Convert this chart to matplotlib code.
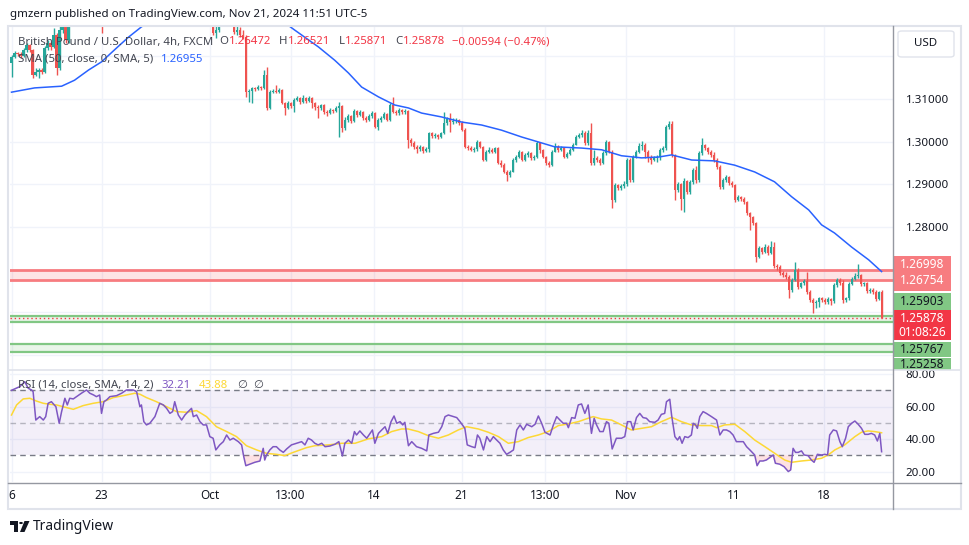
import numpy as np
import matplotlib.pyplot as plt
from matplotlib.patches import Rectangle, Polygon, Circle, FancyBboxPatch
from matplotlib.lines import Line2D
from matplotlib.transforms import Bbox, TransformedBbox

plt.rcParams['font.family'] = ['Noto Sans', 'DejaVu Sans']

# GBPUSD 4h candles, Sep 16 .. Nov 21 2024, one row per trading day
firstOpen = 1.3184
closes = [
    1.3198, 1.3208, 1.3205, 1.3201, 1.3215, 1.3226,
    1.3215, 1.3156, 1.3163, 1.3168, 1.3163, 1.3219,
    1.3231, 1.3222, 1.3250, 1.3173, 1.3262, 1.3300,
    1.3238, 1.3295, 1.3305, 1.3290, 1.3315, 1.3320,
    1.3310, 1.3300, 1.3325, 1.3340, 1.3310, 1.3318,
    1.3290, 1.3330, 1.3345, 1.3355, 1.3340, 1.3360,
    1.3370, 1.3365, 1.3390, 1.3410, 1.3400, 1.3415,
    1.3420, 1.3410, 1.3405, 1.3380, 1.3370, 1.3380,
    1.3385, 1.3400, 1.3425, 1.3390, 1.3360, 1.3375,
    1.3380, 1.3395, 1.3370, 1.3360, 1.3390, 1.3400,
    1.3400, 1.3410, 1.3395, 1.3390, 1.3380, 1.3375,
    1.3370, 1.3255, 1.3262, 1.3290, 1.3300, 1.3280,
    1.3290, 1.3300, 1.3258, 1.3262, 1.3250, 1.3245,
    1.3116, 1.3119, 1.3126, 1.3123, 1.3128, 1.3126,
    1.3156, 1.3079, 1.3116, 1.3119, 1.3116, 1.3121,
    1.3091, 1.3079, 1.3091, 1.3084, 1.3098, 1.3102,
    1.3093, 1.3102, 1.3095, 1.3102, 1.3091, 1.3081,
    1.3079, 1.3086, 1.3070, 1.3067, 1.3074, 1.3072,
    1.3079, 1.3084, 1.3032, 1.3051, 1.3060, 1.3048,
    1.3072, 1.3063, 1.3070, 1.3056, 1.3051, 1.3060,
    1.3067, 1.3034, 1.3051, 1.3056, 1.3065, 1.3051,
    1.3086, 1.3070, 1.3067, 1.3074, 1.3070, 1.3072,
    1.3004, 1.2997, 1.2988, 1.2983, 1.2988, 1.2978,
    1.2983, 1.3020, 1.3013, 1.3016, 1.3011, 1.3020,
    1.3044, 1.3053, 1.3046, 1.3048, 1.3051, 1.3044,
    1.3027, 1.2988, 1.2985, 1.2981, 1.2983, 1.2999,
    1.2988, 1.2957, 1.2976, 1.2981, 1.2976, 1.2985,
    1.2950, 1.2945, 1.2929, 1.2922, 1.2929, 1.2957,
    1.2964, 1.2976, 1.2957, 1.2969, 1.2974, 1.2962,
    1.2964, 1.2997, 1.2981, 1.2964, 1.2950, 1.2945,
    1.2976, 1.2988, 1.2981, 1.2985, 1.2964, 1.2971,
    1.2981, 1.2992, 1.3011, 1.3016, 1.3020, 1.2997,
    1.3020, 1.2950, 1.2962, 1.2957, 1.2950, 1.2974,
    1.2999, 1.2976, 1.2863, 1.2899, 1.2892, 1.2896,
    1.2901, 1.2957, 1.2910, 1.2964, 1.2976, 1.2990,
    1.2992, 1.2976, 1.2962, 1.2957, 1.2962, 1.2964,
    1.2981, 1.2985, 1.3034, 1.3041, 1.2969, 1.2887,
    1.2901, 1.2866, 1.2908, 1.2883, 1.2906, 1.2934,
    1.2910, 1.2974, 1.2992, 1.2985, 1.2976, 1.2969,
    1.2957, 1.2941, 1.2894, 1.2910, 1.2917, 1.2903,
    1.2899, 1.2863, 1.2870, 1.2866, 1.2859, 1.2833,
    1.2824, 1.2810, 1.2730, 1.2751, 1.2742, 1.2753,
    1.2739, 1.2753, 1.2709, 1.2707, 1.2693, 1.2688,
    1.2683, 1.2653, 1.2676, 1.2700, 1.2660, 1.2669,
    1.2674, 1.2648, 1.2630, 1.2623, 1.2625, 1.2634,
    1.2630, 1.2625, 1.2632, 1.2627, 1.2665, 1.2676,
    1.2669, 1.2630, 1.2634, 1.2667, 1.2679, 1.2686,
    1.2688, 1.2667, 1.2669, 1.2651, 1.2653, 1.2648,
    1.2632, 1.26472, 1.25878,
]
highs = [
    1.3203, 1.3212, 1.3210, 1.3210, 1.3219, 1.3231,
    1.3228, 1.3217, 1.3173, 1.3173, 1.3173, 1.3224,
    1.3238, 1.3233, 1.3266, 1.3255, 1.3290, 1.3320,
    1.3305, 1.3305, 1.3318, 1.3312, 1.3322, 1.3330,
    1.3328, 1.3318, 1.3332, 1.3350, 1.3345, 1.3325,
    1.3322, 1.3335, 1.3350, 1.3362, 1.3358, 1.3365,
    1.3375, 1.3378, 1.3395, 1.3420, 1.3418, 1.3420,
    1.3428, 1.3425, 1.3415, 1.3410, 1.3385, 1.3388,
    1.3392, 1.3410, 1.3434, 1.3430, 1.3395, 1.3382,
    1.3388, 1.3400, 1.3398, 1.3378, 1.3395, 1.3410,
    1.3412, 1.3418, 1.3412, 1.3400, 1.3395, 1.3388,
    1.3380, 1.3372, 1.3275, 1.3298, 1.3312, 1.3305,
    1.3298, 1.3310, 1.3305, 1.3275, 1.3268, 1.3262,
    1.3250, 1.3123, 1.3128, 1.3128, 1.3133, 1.3131,
    1.3168, 1.3175, 1.3121, 1.3123, 1.3133, 1.3126,
    1.3123, 1.3093, 1.3095, 1.3093, 1.3102, 1.3107,
    1.3105, 1.3109, 1.3105, 1.3107, 1.3105, 1.3093,
    1.3086, 1.3088, 1.3088, 1.3074, 1.3079, 1.3077,
    1.3084, 1.3093, 1.3086, 1.3058, 1.3065, 1.3063,
    1.3077, 1.3074, 1.3074, 1.3072, 1.3060, 1.3065,
    1.3072, 1.3070, 1.3056, 1.3060, 1.3070, 1.3067,
    1.3091, 1.3105, 1.3074, 1.3079, 1.3077, 1.3077,
    1.3074, 1.3009, 1.3002, 1.2992, 1.2992, 1.2990,
    1.2988, 1.3023, 1.3023, 1.3020, 1.3018, 1.3023,
    1.3070, 1.3058, 1.3067, 1.3056, 1.3056, 1.3053,
    1.3048, 1.3032, 1.2992, 1.2990, 1.2988, 1.3004,
    1.3002, 1.2990, 1.2981, 1.2988, 1.2985, 1.2988,
    1.2988, 1.2957, 1.2950, 1.2934, 1.2934, 1.2962,
    1.2969, 1.2981, 1.2978, 1.2974, 1.2978, 1.2976,
    1.2969, 1.3002, 1.2999, 1.2983, 1.2966, 1.2955,
    1.2981, 1.2997, 1.2992, 1.2990, 1.2988, 1.2976,
    1.2985, 1.2997, 1.3016, 1.3020, 1.3027, 1.3025,
    1.3027, 1.3044, 1.2981, 1.2966, 1.2962, 1.2978,
    1.3004, 1.3002, 1.2981, 1.2903, 1.2901, 1.2901,
    1.2908, 1.2962, 1.2962, 1.2969, 1.2981, 1.2997,
    1.3002, 1.2997, 1.2981, 1.2969, 1.2966, 1.2969,
    1.2985, 1.2990, 1.3039, 1.3048, 1.3048, 1.2971,
    1.2906, 1.2903, 1.2915, 1.2910, 1.2910, 1.2938,
    1.2943, 1.2978, 1.3009, 1.2995, 1.2988, 1.2981,
    1.2976, 1.2962, 1.2945, 1.2915, 1.2922, 1.2920,
    1.2908, 1.2901, 1.2875, 1.2873, 1.2871, 1.2861,
    1.2835, 1.2826, 1.2812, 1.2756, 1.2753, 1.2760,
    1.2758, 1.2767, 1.2765, 1.2714, 1.2711, 1.2697,
    1.2695, 1.2688, 1.2681, 1.2718, 1.2704, 1.2672,
    1.2679, 1.2695, 1.2653, 1.2634, 1.2630, 1.2637,
    1.2637, 1.2634, 1.2637, 1.2634, 1.2669, 1.2681,
    1.2681, 1.2676, 1.2637, 1.2672, 1.2683, 1.2693,
    1.2714, 1.2690, 1.2672, 1.2672, 1.2658, 1.2656,
    1.2653, 1.2651, 1.26521,
]
lows = [
    1.3152, 1.3196, 1.3201, 1.3196, 1.3198, 1.3210,
    1.3210, 1.3149, 1.3154, 1.3149, 1.3159, 1.3161,
    1.3215, 1.3215, 1.3219, 1.3156, 1.3168, 1.3255,
    1.3231, 1.3232, 1.3285, 1.3280, 1.3285, 1.3305,
    1.3300, 1.3290, 1.3295, 1.3320, 1.3305, 1.3300,
    1.3254, 1.3285, 1.3325, 1.3338, 1.3335, 1.3338,
    1.3355, 1.3358, 1.3360, 1.3385, 1.3392, 1.3395,
    1.3410, 1.3402, 1.3398, 1.3375, 1.3350, 1.3365,
    1.3372, 1.3380, 1.3398, 1.3385, 1.3345, 1.3352,
    1.3368, 1.3375, 1.3362, 1.3340, 1.3355, 1.3385,
    1.3390, 1.3395, 1.3388, 1.3380, 1.3372, 1.3365,
    1.3355, 1.3250, 1.3243, 1.3258, 1.3285, 1.3275,
    1.3275, 1.3285, 1.3252, 1.3250, 1.3245, 1.3240,
    1.3105, 1.3093, 1.3091, 1.3119, 1.3121, 1.3121,
    1.3123, 1.3074, 1.3077, 1.3114, 1.3114, 1.3114,
    1.3088, 1.3063, 1.3077, 1.3079, 1.3070, 1.3095,
    1.3088, 1.3091, 1.3091, 1.3093, 1.3079, 1.3074,
    1.3056, 1.3074, 1.3065, 1.3060, 1.3065, 1.3067,
    1.3070, 1.3011, 1.3023, 1.3027, 1.3046, 1.3044,
    1.3046, 1.3058, 1.3060, 1.3051, 1.3046, 1.3048,
    1.3056, 1.3032, 1.3027, 1.3046, 1.3053, 1.3048,
    1.3048, 1.3067, 1.3063, 1.3063, 1.3065, 1.3065,
    1.2985, 1.2990, 1.2983, 1.2974, 1.2978, 1.2974,
    1.2976, 1.2976, 1.3009, 1.3009, 1.3006, 1.3009,
    1.3018, 1.3039, 1.3023, 1.3041, 1.3044, 1.3039,
    1.3025, 1.2985, 1.2981, 1.2978, 1.2976, 1.2978,
    1.2985, 1.2955, 1.2955, 1.2974, 1.2974, 1.2974,
    1.2948, 1.2941, 1.2927, 1.2908, 1.2917, 1.2929,
    1.2952, 1.2962, 1.2955, 1.2955, 1.2964, 1.2957,
    1.2957, 1.2962, 1.2974, 1.2962, 1.2945, 1.2941,
    1.2943, 1.2976, 1.2976, 1.2978, 1.2962, 1.2962,
    1.2969, 1.2978, 1.2992, 1.3009, 1.3011, 1.2992,
    1.2992, 1.2945, 1.2945, 1.2952, 1.2945, 1.2948,
    1.2969, 1.2974, 1.2845, 1.2859, 1.2887, 1.2887,
    1.2892, 1.2896, 1.2906, 1.2906, 1.2962, 1.2974,
    1.2981, 1.2962, 1.2952, 1.2948, 1.2955, 1.2952,
    1.2957, 1.2976, 1.2981, 1.3030, 1.2964, 1.2863,
    1.2882, 1.2840, 1.2835, 1.2878, 1.2878, 1.2901,
    1.2903, 1.2906, 1.2969, 1.2981, 1.2971, 1.2964,
    1.2952, 1.2936, 1.2889, 1.2889, 1.2906, 1.2899,
    1.2894, 1.2859, 1.2861, 1.2861, 1.2854, 1.2828,
    1.2793, 1.2805, 1.2718, 1.2728, 1.2737, 1.2739,
    1.2735, 1.2737, 1.2704, 1.2700, 1.2688, 1.2683,
    1.2679, 1.2634, 1.2648, 1.2674, 1.2655, 1.2658,
    1.2665, 1.2644, 1.2625, 1.2599, 1.2611, 1.2613,
    1.2625, 1.2620, 1.2620, 1.2618, 1.2623, 1.2660,
    1.2665, 1.2623, 1.2625, 1.2630, 1.2665, 1.2676,
    1.2681, 1.2662, 1.2662, 1.2646, 1.2646, 1.2644,
    1.2627, 1.2630, 1.25871,
]

# SMA(50) line, read as (bar, value)
smaX = [0, 7.7, 16.7, 21, 25.7, 30, 34.3, 39, 43.3, 55, 65, 75, 85, 94.3, 102.3,
        107.7, 112.3, 116.7, 122.3, 127.7, 132.3, 136.7, 143.3, 150, 156.7, 163.3,
        170, 176.7, 181, 190, 196.7, 203.3, 210, 215.7, 220, 226.7, 234.3, 241,
        247.7, 254.3, 260, 265.7, 270, 274.3, 280, 285.7, 290]
smaVal = [1.3116, 1.3126, 1.3130, 1.3144, 1.3168, 1.3187, 1.3215, 1.3245, 1.3269,
          1.3320, 1.3360, 1.3355, 1.3310, 1.3262, 1.3222, 1.3191, 1.3161, 1.3128,
          1.3105, 1.3086, 1.3079, 1.3067, 1.3058, 1.3046, 1.3039, 1.3027, 1.3011,
          1.2997, 1.2988, 1.2985, 1.2981, 1.2967, 1.2962, 1.2964, 1.2969, 1.2957,
          1.2955, 1.2945, 1.2929, 1.2906, 1.2871, 1.2840, 1.2805, 1.2786, 1.2753,
          1.2723, 1.26955]

# RSI(14)
rsiX = [0, 2.8, 4.4, 5.6, 6.7, 7.2, 8.1, 9.4, 10.6, 11.4, 12.2, 13.3, 14.8, 15.9,
        16.7, 17.8, 18.6, 19.4, 20.6, 21.7, 23.3, 25, 26.1, 27.4, 28.3, 29.4, 30,
        30.8, 31.7, 32.8, 35, 36.7, 38.3, 40.6, 41.7, 42.2, 42.8, 43.3, 44.1, 45,
        46.1, 47.8, 49.4, 50.6, 51.7, 52.8, 53.7, 54.4, 55.6, 56.7, 57.8, 58.9, 60,
        60.6, 61.7, 62.8, 63.9, 65, 66.1, 67.2, 68.1, 69.4, 70.6, 71.7, 72.8, 73.9,
        75.6, 76.7, 77.4, 78.1, 79.4, 81.1, 82.8, 83.9, 84.4, 85, 86.1, 87.2, 88.3,
        89.4, 90.6, 91.7, 93.3, 95, 96.7, 97.8, 98.9, 100, 101.1, 102.2, 103.4,
        104.5, 106.1, 107.8, 109.1, 110.3, 111.1, 112.3, 113.4, 114.3, 115, 116.1,
        117.3, 118.4, 119.5, 120.3, 121.1, 122.3, 123.4, 124.5, 125.4, 126.5, 127.5,
        128.4, 129.5, 130.4, 131.1, 132.3, 133.4, 135, 136.7, 138.4, 139.1, 140.6,
        142.3, 143.4, 144.5, 145.6, 147.3, 148.4, 149.5, 151.1, 151.9, 153.4, 154.5,
        155.3, 156.1, 157.3, 158.4, 159.5, 160.6, 161.7, 162.8, 163.9, 165, 166.1,
        167.3, 168.4, 169.5, 170.6, 171.7, 173.4, 174.5, 175.6, 176.7, 177.8, 179.5,
        180.6, 181.7, 182.8, 183.9, 185, 185.6, 186.7, 187.8, 188.9, 190, 191.1,
        192.2, 193.3, 194.2, 195, 196.1, 197.2, 198.3, 199.1, 200.2, 201.6, 203.3,
        204.4, 205.3, 206.4, 207.2, 208.3, 209.4, 210.5, 211.6, 212.7, 214.4, 215.5,
        216.6, 217.7, 218.3, 219.4, 220, 221.1, 222, 222.7, 223.5, 224.4, 225.5,
        226.6, 227.2, 228, 228.6, 229.4, 230.5, 231.6, 233.3, 235, 236.1, 237.2,
        238.3, 239.4, 240.5, 241.6, 242.7, 243.9, 245, 246.1, 247.2, 247.7, 248.5,
        249.4, 250.5, 251.6, 252.7, 253.9, 254.6, 256.1, 257.5, 258.9, 259.7, 260.5,
        261.3, 262.2, 263.3, 264.2, 265.5, 266.6, 267.5, 268.6, 270, 271.1, 272,
        272.7, 273.9, 275, 276.1, 276.9, 278, 278.9, 280, 281.1, 282.2, 283.3, 284.4,
        285.5, 286.6, 287.7, 288.6, 289.4, 290]
rsiVal = [70.0, 72.3, 75.3, 71.2, 70.2, 69.2, 51.7, 53.8, 51.7, 53.8, 62.0, 63.0,
          59.9, 49.7, 56.9, 65.1, 61.0, 65.1, 64.7, 66.1, 68.2, 70.2, 68.2, 67.1,
          66.1, 67.1, 55.8, 63.0, 64.1, 66.1, 66.7, 68.2, 70.2, 70.2, 69.2, 65.1,
          59.9, 61.0, 50.7, 48.7, 49.7, 53.8, 62.0, 61.0, 58.9, 55.8, 56.9, 63.0,
          54.8, 51.7, 54.8, 56.9, 58.9, 53.8, 54.8, 50.7, 48.7, 48.7, 41.5, 40.5,
          33.3, 36.4, 38.4, 42.5, 39.4, 40.5, 38.4, 36.4, 29.2, 23.6, 24.5, 25.7,
          26.5, 34.3, 27.1, 30.2, 33.3, 35.3, 35.3, 33.3, 31.8, 33.9, 36.4, 37.4,
          38.4, 36.4, 40.5, 39.4, 37.4, 36.4, 37.4, 35.3, 35.7, 36.8, 38.4, 29.6,
          37.4, 39.4, 37.4, 44.6, 42.5, 45.0, 42.5, 40.5, 43.5, 45.6, 37.4, 43.5,
          45.6, 47.6, 43.5, 50.7, 54.2, 49.7, 50.7, 48.7, 50.3, 35.9, 38.4, 35.3,
          34.3, 32.7, 42.5, 43.5, 44.2, 47.6, 53.8, 54.8, 53.8, 53.2, 50.7, 46.6,
          36.4, 35.3, 34.7, 42.5, 40.5, 33.3, 41.5, 38.4, 41.5, 39.4, 37.4, 33.3,
          30.6, 31.8, 33.3, 45.6, 48.7, 45.6, 49.1, 47.6, 49.1, 54.2, 49.7, 44.2,
          42.5, 48.7, 53.8, 51.7, 49.7, 49.7, 47.0, 53.2, 52.8, 61.0, 61.6, 55.8,
          61.0, 43.5, 52.8, 48.7, 44.6, 44.6, 50.7, 49.7, 33.9, 40.5, 40.5, 41.5,
          50.7, 50.7, 45.6, 53.2, 55.8, 53.2, 52.8, 50.7, 50.3, 51.7, 55.2, 55.8,
          63.0, 64.5, 54.8, 41.5, 39.4, 41.5, 37.4, 41.5, 40.9, 42.5, 49.7, 48.7,
          46.6, 53.8, 56.9, 55.8, 53.8, 51.7, 42.5, 45.6, 45.6, 44.6, 42.5, 38.4,
          38.4, 38.4, 35.3, 33.3, 31.2, 30.2, 23.6, 26.5, 26.5, 27.1, 28.6, 30.2,
          25.1, 24.5, 23.0, 20.0, 21.0, 34.3, 31.8, 31.8, 32.7, 30.2, 29.8, 27.1,
          25.7, 30.6, 30.2, 30.6, 30.2, 42.5, 45.6, 45.0, 38.4, 35.3, 40.5, 47.6,
          49.7, 51.1, 49.1, 46.6, 42.9, 42.9, 43.5, 42.5, 38.8, 43.5, 32.21]

# SMA(14) of RSI
rsiMaX = [0, 1.7, 3.9, 6.1, 8.3, 10.6, 12.8, 15, 17.2, 20.6, 23.9, 27.2, 30.6, 33.9,
          37.2, 41.1, 42.8, 45, 48.3, 51.7, 55, 58.3, 61.7, 65, 68.3, 71.7, 75, 78.3,
          81.7, 85, 88.3, 91.1, 93.9, 98.3, 101.1, 105.6, 110, 114.5, 118.9, 123.4,
          126.7, 130, 132.2, 135.6, 138.9, 142.3, 145.6, 148.9, 151.7, 155.6, 158.9,
          162.3, 165.6, 168.9, 172.2, 175.6, 178.9, 182.3, 185.6, 188.9, 192.2, 193.9,
          196.6, 200, 203.3, 206.6, 210, 213.3, 216.6, 220, 223.3, 226.6, 230, 233.3,
          235, 237.7, 241.1, 244.4, 247.7, 251.1, 254.4, 257.7, 260, 263.3, 266.6,
          270, 272.2, 274.4, 277.7, 281.1, 283.3, 285.5, 287.7, 290]
rsiMaVal = [54.8, 61.0, 64.7, 65.1, 63.4, 62.0, 61.4, 61.0, 59.9, 58.3, 60.6, 62.0,
            63.0, 65.5, 66.7, 68.2, 67.6, 65.5, 63.0, 59.9, 56.9, 56.5, 57.5, 53.8,
            47.6, 44.6, 41.5, 35.9, 33.3, 31.2, 30.6, 29.8, 31.8, 34.7, 35.9, 36.4,
            37.4, 37.4, 40.1, 41.5, 44.6, 46.2, 46.2, 44.6, 42.1, 40.5, 42.5, 45.6,
            47.6, 46.2, 44.2, 41.5, 37.4, 38.4, 40.9, 42.5, 44.6, 48.3, 49.3, 50.7,
            52.8, 53.8, 52.4, 51.7, 48.7, 45.6, 46.6, 47.6, 50.7, 53.4, 50.7, 48.7,
            48.3, 48.3, 47.0, 48.7, 49.1, 44.6, 39.4, 35.3, 31.2, 27.1, 25.7, 26.5,
            27.1, 28.2, 30.2, 33.3, 36.4, 41.5, 44.2, 45.0, 44.6, 43.88]

resistance = [1.26754, 1.26998]
supportUpper = [1.25767, 1.25903]
supportLower = [1.2508, 1.25258]
lastPrice = 1.25878

priceTicks = [1.28, 1.29, 1.30, 1.31]
priceGrid = [1.25, 1.26, 1.27, 1.28, 1.29, 1.30, 1.31, 1.32]
rsiTicks = [20, 40, 60, 80]
tickPos = [0, 30, 66, 93, 120.7, 150, 177.7, 204.7, 240.7, 270.7]
tickLabels = ['6', '23', 'Oct', '13:00', '14', '21', '13:00', 'Nov', '11', '18']

UP = '#26a69a'
DOWN = '#ef5350'
TXT = '#131722'
GREY = '#787b86'
GRID = '#f0f3fa'

W, H = 970, 545
fig = plt.figure(figsize=(W / 100, H / 100), dpi=100)
fig.patch.set_facecolor('white')


def fx(x):
    return x / W


def fy(y):
    return 1 - y / H


ax = fig.add_axes([fx(10), fy(370), 883 / W, 343 / H])
axr = fig.add_axes([fx(10), fy(482), 883 / W, 112 / H])

for a in (ax, axr):
    for s in a.spines.values():
        s.set_visible(False)
    a.set_xlim(-0.5, 293.8)
    a.yaxis.tick_right()
    a.tick_params(axis='y', length=0, pad=9, labelsize=8.3, colors=TXT)
    for p in tickPos:
        a.axvline(p, color=GRID, lw=1, zorder=0)

# ---- main pane
ax.set_ylim(1.246484, 1.326875)
for p in priceGrid:
    ax.axhline(p, color=GRID, lw=1, zorder=0)
ax.set_yticks(priceTicks)
ax.set_yticklabels(['%.5f' % p for p in priceTicks])
ax.set_xticks([])

ax.axhspan(resistance[0], resistance[1], color='#f23645', alpha=0.13, lw=0, zorder=1)
for p in resistance:
    ax.axhline(p, color='#f77c80', lw=2, zorder=1)
for band in (supportUpper, supportLower):
    ax.axhspan(band[0], band[1], color='#4caf50', alpha=0.12, lw=0, zorder=1)
    for p in band:
        ax.axhline(p, color='#81c784', lw=1.6, zorder=1)
ax.axhline(lastPrice, color='#f23645', lw=1, ls=(0, (1, 2)), zorder=4)

c = np.array(closes)
o = np.concatenate([[firstOpen], c[:-1]])
h = np.maximum(np.array(highs), np.maximum(o, c))
l = np.minimum(np.array(lows), np.minimum(o, c))
x = np.arange(len(c))
col = np.where(c >= o, UP, DOWN)
ax.vlines(x, l, h, colors=col, lw=1, zorder=2)
bodyH = np.maximum(np.abs(c - o), 0.00012)
ax.bar(x, bodyH, bottom=np.minimum(o, c), width=0.68, color=col, lw=0, zorder=3)

ax.plot(smaX, smaVal, color='#2962ff', lw=1.1, zorder=5)

# ---- RSI pane
axr.set_ylim(13.57, 82.5)
for v in rsiTicks:
    axr.axhline(v, color=GRID, lw=1, zorder=0)
axr.axhspan(30, 70, color='#7e57c2', alpha=0.09, lw=0, zorder=1)
axr.axhline(70, color=GREY, lw=1, ls=(0, (4, 3)), zorder=2)
axr.axhline(30, color=GREY, lw=1, ls=(0, (4, 3)), zorder=2)
axr.axhline(50, color=GREY, lw=1, ls=(0, (4, 3)), alpha=0.5, zorder=2)
rx = np.array(rsiX)
rv = np.array(rsiVal)
axr.fill_between(rx, rv, 30, where=rv < 30, interpolate=True, color='#f23645',
                 alpha=0.15, lw=0, zorder=2)
axr.plot(rsiMaX, rsiMaVal, color='#fdd835', lw=1.1, zorder=3)
axr.plot(rx, rv, color='#7e57c2', lw=1.1, zorder=4)
axr.set_yticks(rsiTicks)
axr.set_yticklabels(['%.2f' % v for v in rsiTicks])
axr.set_xticks(tickPos)
axr.set_xticklabels(tickLabels)
axr.tick_params(axis='x', length=0, pad=5, labelsize=8.5, colors=TXT)
for t in axr.get_xticklabels():
    if t.get_text() in ('Oct', 'Nov'):
        t.set_fontweight('bold')

# ---- frame and separators
fig.add_artist(Rectangle((fx(8), fy(509)), (961 - 8) / W, (509 - 26) / H,
                         transform=fig.transFigure, fill=False, ec='#e0e3eb', lw=1.5))
fig.add_artist(Line2D([fx(8), fx(961)], [fy(370), fy(370)], color='#e0e3eb', lw=1.2))
fig.add_artist(Line2D([fx(8), fx(961)], [fy(482.5), fy(482.5)], color='#9598a1', lw=1))
fig.add_artist(Line2D([fx(893.5), fx(893.5)], [fy(26), fy(509)], color='#9598a1', lw=1))

# USD box
fig.add_artist(FancyBboxPatch((fx(898), fy(57)), 56 / W, 26 / H,
                              boxstyle='round,pad=0,rounding_size=0.004',
                              transform=fig.transFigure, fc='white', ec='#e0e3eb', lw=1))
fig.text(fx(926), fy(44), 'USD', ha='center', va='center', fontsize=8.3, color=TXT)

# price labels on the right axis
boxes = [
    (256, 291, '#f77c80', [('1.26998', 264), ('1.26754', 281)], 'white'),
    (293, 310, '#81c784', [('1.25903', 301.5)], TXT),
    (310, 340, '#f23645', [('1.25878', 318), ('01:08:26', 332)], 'white'),
    (342, 357, '#81c784', [('1.25767', 349.5)], TXT),
    (358, 370, '#81c784', [('1.25258', 364.5)], TXT),
]
clip = TransformedBbox(Bbox.from_extents(fx(893), fy(369.5), fx(962), fy(20)), fig.transFigure)
for top, bot, fc, labels, tc in boxes:
    r = Rectangle((fx(894), fy(bot)), 57 / W, (bot - top) / H,
                  transform=fig.transFigure, fc=fc, ec='none')
    fig.add_artist(r)
    r.set_clip_box(clip)
    for s, yy in labels:
        t = fig.text(fx(922), fy(yy), s, ha='center', va='center', fontsize=8.6, color=tc)
        t.set_clip_box(clip)
        t.set_clip_on(True)

# ---- header and legends
fig.text(fx(10), fy(14), 'gmzern published on TradingView.com, Nov 21, 2024 11:51 UTC-5',
         fontsize=8.3, color=TXT, ha='left', va='center')

LEG = '#434651'
RED = '#f23645'
renderer = fig.canvas.get_renderer()


def legendRow(x0, y, pieces, size=8.2):
    # pieces: (text, colour, gap in px after it), laid out left to right
    xx = x0
    for s, colr, gap in pieces:
        t = fig.text(fx(xx), fy(y), s, color=colr, fontsize=size, ha='left', va='center')
        xx += t.get_window_extent(renderer=renderer).width + gap


legendRow(18, 42, [('British Pound / U.S. Dollar, 4h, FXCM', LEG, 6),
                   ('O', LEG, 0.5), ('1.26472', RED, 8),
                   ('H', LEG, 0.5), ('1.26521', RED, 8),
                   ('L', LEG, 0.5), ('1.25871', RED, 8),
                   ('C', LEG, 0.5), ('1.25878', RED, 7),
                   ('\u22120.00594 (\u22120.47%)', RED, 0)])
legendRow(18, 59, [('SMA (50, close, 0, SMA, 5)', LEG, 8), ('1.26955', '#2962ff', 0)])
legendRow(18, 385, [('RSI (14, close, SMA, 14, 2)', LEG, 8), ('32.21', '#7e57c2', 8),
                    ('43.88', '#fdd835', 9), ('\u2205', LEG, 6), ('\u2205', LEG, 0)])

# TradingView logo
fig.add_artist(Polygon([(fx(10), fy(521)), (fx(18), fy(521)), (fx(18), fy(532)),
                        (fx(14.5), fy(532)), (fx(14.5), fy(524.5)), (fx(10), fy(524.5))],
                       closed=True, transform=fig.transFigure, fc=TXT, ec='none'))
fig.add_artist(Circle((fx(21), fy(523)), 1.9 / W, transform=fig.transFigure, fc=TXT, ec='none'))
fig.add_artist(Polygon([(fx(24.5), fy(521)), (fx(29.5), fy(521)), (fx(24.5), fy(532)),
                        (fx(20), fy(532))],
                       closed=True, transform=fig.transFigure, fc=TXT, ec='none'))
fig.text(fx(33), fy(527), 'TradingView', fontsize=10, color=TXT, ha='left', va='center')

fig.savefig('out.png', dpi=100, facecolor='white')
